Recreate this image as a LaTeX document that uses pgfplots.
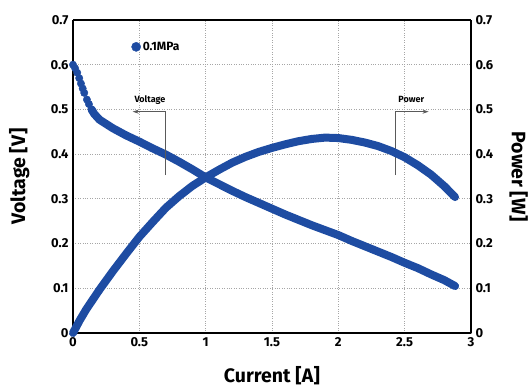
\documentclass[border=0pt]{standalone}
\usepackage{fontspec}
\setmainfont{Fira Sans}
\usepackage{pgfplots}
\pgfplotsset{compat=1.18}
\usetikzlibrary{arrows.meta}
\definecolor{cblue}{RGB}{30,76,162}
\definecolor{anngray}{RGB}{90,90,90}
\begin{document}
\begin{tikzpicture}
\useasboundingbox (-73pt,-56pt) rectangle (456pt,333pt);
\begin{axis}[
  scale only axis, width=398pt, height=313pt,
  xmin=0, xmax=3, ymin=0, ymax=0.7,
  xtick={0,0.5,1,1.5,2,2.5,3}, ytick={0,0.1,0.2,0.3,0.4,0.5,0.6,0.7},
  xticklabels={0,0.5,1,1.5,2,2.5,3},
  yticklabels={0,0.1,0.2,0.3,0.4,0.5,0.6,0.7},
  axis y line*=left, axis x line*=box,
  axis line style={line width=1.6pt},
  grid=major, grid style={dotted, line width=0.9pt, gray!70},
  tick style={draw=none},
  tick label style={font=\fontsize{13}{13}\selectfont\bfseries},
  xticklabel style={yshift=-1pt},
  yticklabel style={xshift=-1pt},
  xlabel={Current [A]}, ylabel={Voltage [V]},
  label style={font=\fontsize{19.5}{19.5}\selectfont\bfseries},
  xlabel style={at={(axis description cs:0.5,-0.136)}, anchor=center},
  ylabel style={at={(axis description cs:-0.135,0.5)}, anchor=center},
  clip=false,
  legend style={at={(axis cs:0.44,0.64)}, anchor=west, draw=none, fill=none,
    font=\fontsize{12}{12}\selectfont\bfseries, inner sep=0pt},
  legend cell align=left,
]
\addlegendimage{only marks, mark=*, mark size=4.6pt, color=cblue}
\addlegendentry{0.1MPa}
% Voltage: discrete points at the start
\addplot[only marks, mark=*, mark size=3.7pt, color=cblue, forget plot] coordinates {
(0,0.600) (0.016,0.592) (0.032,0.582) (0.047,0.570) (0.06,0.558) (0.073,0.547)
(0.085,0.537) (0.105,0.522) (0.12,0.512) (0.14,0.500)
};
% Voltage: dense part
\addplot[color=cblue, line width=8pt, line cap=round, line join=round, forget plot] coordinates {
(0.14,0.500) (0.16,0.490) (0.2,0.477) (0.3,0.458) (0.4,0.442) (0.5,0.428)
(0.6,0.413) (0.7,0.399) (0.8,0.383) (0.9,0.366) (1.0,0.348) (1.1,0.333)
(1.2,0.318) (1.3,0.304) (1.4,0.291) (1.5,0.278) (1.6,0.265) (1.7,0.253)
(1.8,0.241) (1.9,0.230) (2.0,0.219) (2.1,0.206) (2.2,0.194) (2.3,0.182)
(2.4,0.170) (2.5,0.157) (2.6,0.145) (2.7,0.131) (2.8,0.118) (2.88,0.105)
};
% annotations
\draw[anngray, line width=0.9pt, -{Stealth[length=6pt,width=4pt]}]
  (axis cs:0.70,0.353) -- (axis cs:0.70,0.495) -- (axis cs:0.45,0.495);
\node[font=\fontsize{9}{9}\selectfont\bfseries] at (axis cs:0.58,0.522) {Voltage};
\draw[anngray, line width=0.9pt, -{Stealth[length=6pt,width=4pt]}]
  (axis cs:2.43,0.353) -- (axis cs:2.43,0.495) -- (axis cs:2.68,0.495);
\node[font=\fontsize{9}{9}\selectfont\bfseries] at (axis cs:2.55,0.522) {Power};
\end{axis}
\begin{axis}[
  scale only axis, width=398pt, height=313pt,
  xmin=0, xmax=3, ymin=0, ymax=0.7,
  ytick={0,0.1,0.2,0.3,0.4,0.5,0.6,0.7},
  yticklabels={0,0.1,0.2,0.3,0.4,0.5,0.6,0.7},
  axis x line=none, axis y line*=right,
  axis line style={line width=1.6pt},
  tick style={draw=none},
  tick label style={font=\fontsize{13}{13}\selectfont\bfseries},
  yticklabel style={xshift=1pt},
  ylabel={Power [W]},
  label style={font=\fontsize{19.5}{19.5}\selectfont\bfseries},
  ylabel style={at={(axis description cs:1.12,0.5)}, anchor=center, rotate=180},
  clip=false,
]
\addplot[color=cblue, line width=8pt, line cap=round, line join=round] coordinates {
(0,0) (0.05,0.028) (0.1,0.053) (0.2,0.097) (0.3,0.138) (0.4,0.177) (0.5,0.215)
(0.6,0.248) (0.7,0.280) (0.8,0.306) (0.9,0.329) (1.0,0.348) (1.1,0.365)
(1.2,0.381) (1.3,0.394) (1.4,0.405) (1.5,0.414) (1.6,0.422) (1.7,0.429)
(1.8,0.434) (1.9,0.437) (2.0,0.436) (2.1,0.432) (2.2,0.426) (2.3,0.418)
(2.4,0.407) (2.5,0.393) (2.6,0.375) (2.7,0.354) (2.8,0.328) (2.88,0.304)
};
\end{axis}
\end{tikzpicture}
\end{document}
